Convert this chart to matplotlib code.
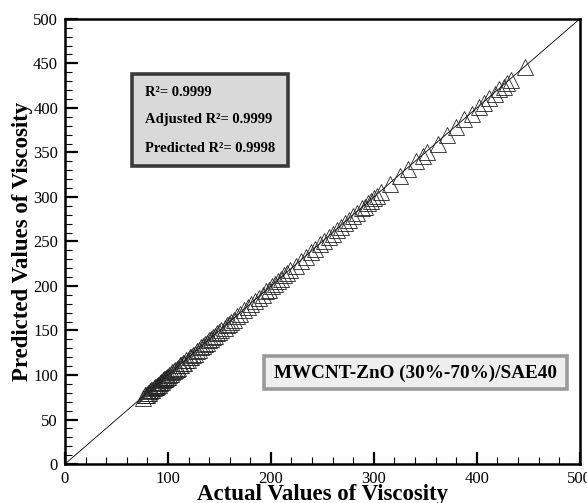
"""Parity plot of actual vs predicted viscosity for MWCNT-ZnO/SAE40."""

import matplotlib.pyplot as plt
from matplotlib.ticker import MultipleLocator

plt.rcParams["font.family"] = ["Liberation Serif", "DejaVu Serif"]

actual_viscosity = [
    76, 78, 79, 80, 81, 82, 83, 84, 85, 86, 87, 88, 89, 90, 91, 92, 93,
    94, 95, 96, 97, 98, 99, 100, 101, 103, 104, 106, 107, 109, 110, 112,
    113, 115, 116, 118, 119, 121, 122, 124, 126, 128, 130, 132, 134, 136,
    138, 140, 142, 144, 146, 148, 150, 152, 155, 157, 159, 161, 164, 167,
    170, 174, 178, 181, 185, 188, 192, 195, 198, 201, 204, 207, 210, 213,
    216, 219, 224, 229, 234, 239, 243, 248, 252, 256, 260, 264, 268, 272,
    276, 280, 284, 288, 291, 294, 297, 300, 303, 307, 316, 325, 333, 341,
    348, 352, 362, 371, 380, 388, 395, 402, 407, 412, 418, 422, 426, 429,
    433, 447,
]

predicted_viscosity = [
    74, 77, 77, 78, 80, 80, 82, 83, 83, 85, 86, 86, 88, 89, 89, 91, 92,
    92, 94, 95, 95, 97, 98, 98, 100, 101, 103, 104, 106, 107, 108, 111,
    111, 114, 114, 117, 117, 120, 120, 123, 124, 127, 128, 131, 132, 135,
    136, 139, 140, 143, 144, 147, 148, 151, 153, 156, 157, 160, 162, 166,
    168, 173, 176, 180, 183, 187, 190, 194, 196, 200, 202, 206, 208, 212,
    214, 218, 222, 228, 232, 238, 241, 247, 250, 255, 258, 263, 266, 271,
    274, 279, 282, 287, 289, 293, 295, 299, 301, 306, 314, 324, 331, 340,
    346, 351, 360, 370, 378, 387, 393, 401, 405, 411, 416, 421, 424, 428,
    431, 446,
]

axis_limits = [0, 500]

r_squared_lines = [
    "R\u00b2= 0.9999",
    "Adjusted R\u00b2= 0.9999",
    "Predicted R\u00b2= 0.9998",
]
series_name = "MWCNT-ZnO (30%-70%)/SAE40"

figure = plt.figure(figsize=(5.87, 5.03), dpi=100)
axis = figure.add_axes([0.1107, 0.0775, 0.877, 0.885])

# y = x reference line
axis.plot(axis_limits, axis_limits, color="black", linewidth=0.6, zorder=1)

axis.plot(
    actual_viscosity,
    predicted_viscosity,
    linestyle="none",
    marker="^",
    markersize=11,
    markerfacecolor="none",
    markeredgecolor="#222222",
    markeredgewidth=0.6,
    zorder=2,
)

axis.set_xlim(axis_limits)
axis.set_ylim(axis_limits)

axis.xaxis.set_major_locator(MultipleLocator(100))
axis.xaxis.set_minor_locator(MultipleLocator(20))
axis.yaxis.set_major_locator(MultipleLocator(50))
axis.yaxis.set_minor_locator(MultipleLocator(10))

axis.tick_params(
    which="major", direction="in", length=9, width=1.6,
    labelsize=12, top=False, right=False, pad=5,
)
axis.tick_params(
    which="minor", direction="in", length=5, width=0.8,
    top=False, right=False,
)

for spine in axis.spines.values():
    spine.set_linewidth(1.8)

axis.set_xlabel("Actual Values of Viscosity", fontsize=16.5, fontweight="bold")
axis.set_ylabel("Predicted Values of Viscosity", fontsize=16.5, fontweight="bold")
axis.xaxis.set_label_coords(0.5, -0.046)
axis.yaxis.set_label_coords(-0.062, 0.5)

# statistics box
stats_box = plt.Rectangle(
    (132 / 587, 1 - 166 / 503), 156 / 587, 92 / 503,
    transform=figure.transFigure, facecolor="#d9d9d9",
    edgecolor="#3a3a3a", linewidth=2.6, zorder=3,
)
figure.patches.append(stats_box)
for index, line in enumerate(r_squared_lines):
    figure.text(
        145 / 587, 1 - (92 + 28 * index) / 503, line,
        fontsize=10.5, fontweight="bold", va="center", ha="left", zorder=4,
    )

# series name box
name_box = plt.Rectangle(
    (264 / 587, 1 - 389 / 503), 303 / 587, 33 / 503,
    transform=figure.transFigure, facecolor="#eeeeee",
    edgecolor="#9a9a9a", linewidth=2.6, zorder=3,
)
figure.patches.append(name_box)
figure.text(
    416 / 587, 1 - 373 / 503, series_name,
    fontsize=13.8, fontweight="bold", va="center", ha="center", zorder=4,
)

figure.savefig("out.png", dpi=100)
plt.close(figure)
